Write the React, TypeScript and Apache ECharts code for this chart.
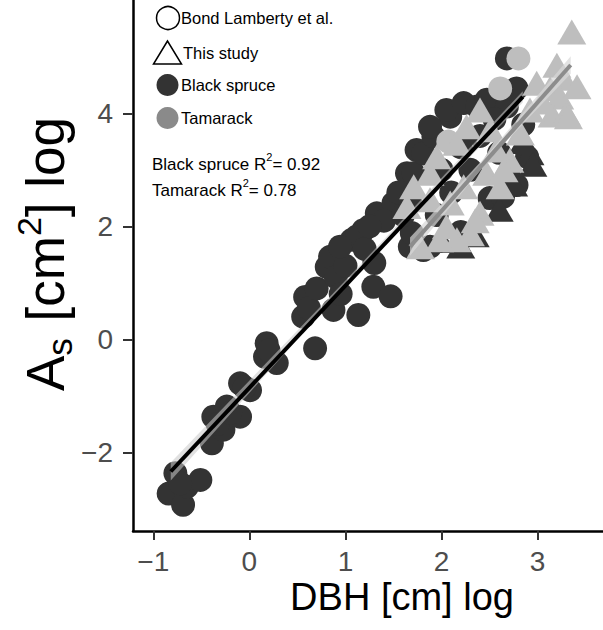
import React, { useEffect, useRef } from "react";
import * as echarts from "echarts";

// Tick values
const xTicks = [-1, 0, 1, 2, 3];
const yTicks = [-2, 0, 2, 4];

// Black spruce, Bond Lamberty et al. (circles)
const spruceBond: number[][] = [
  [-0.84, -2.73], [-0.77, -2.37], [-0.69, -2.93], [-0.65, -2.61], [-0.51, -2.49], [-0.72, -2.55],
  [-0.39, -1.84], [-0.375, -1.37], [-0.27, -1.6], [-0.235, -1.19], [-0.097, -1.37], [-0.33, -1.5], [-0.2, -1.3],
  [-0.097, -0.78], [0.007, -0.9], [-0.05, -0.85],
  [0.18, -0.07], [0.163, -0.31], [0.285, -0.42], [0.2, -0.2],
  [0.58, 0.75], [0.56, 0.4], [0.684, -0.16], [0.62, 0.55], [0.805, 1.28], [0.84, 1.46], [0.875, 0.52],
  [0.7, 0.9], [0.9, 1.1], [0.95, 0.8], [1.066, 1.76], [1.134, 0.43], [1.186, 1.93], [1.326, 2.23],
  [1.29, 0.93], [1.3, 1.35], [1.0, 1.3], [1.118, 1.82], [0.944, 1.64], [1.2, 1.6], [1.47, 0.76],
  [1.5, 2.41], [1.4, 2.1], [1.25, 2.0],
  [1.67, 1.64], [1.69, 1.88], [1.67, 2.46], [1.64, 2.94], [1.707, 2.94], [1.74, 3.35], [1.81, 3.29],
  [1.915, 3.59], [2.09, 3.94], [1.88, 3.76], [2.05, 4.06], [2.23, 4.18], [2.37, 4.12], [2.47, 4.24],
  [2.68, 4.12], [2.78, 4.44], [2.68, 4.97], [1.81, 1.58], [1.88, 1.64], [2.78, 2.73], [2.89, 3.23],
  [2.7, 2.9], [2.0, 3.0], [2.2, 3.4], [2.4, 3.6], [2.55, 3.9], [2.3, 3.0], [2.6, 3.3], [1.95, 2.2],
  [2.1, 2.6], [2.5, 2.5], [2.2, 1.9], [1.6, 2.2], [1.55, 2.6], [2.85, 3.8], [2.64, 2.52],
];

// Black spruce, this study (triangles)
const spruceStudy: number[][] = [
  [2.2, 1.65], [2.35, 1.85], [2.92, 3.3], [2.75, 2.75], [2.0, 1.75], [2.6, 2.3], [2.85, 3.5], [2.95, 3.1],
];

// Tamarack, Bond Lamberty et al. (circles)
const tamarackBond: number[][] = [
  [2.8, 4.97], [2.61, 4.44], [2.07, 3.5],
];

// Tamarack, this study (triangles)
const tamarackStudy: number[][] = [
  [3.355, 5.44], [3.2, 4.85], [3.27, 4.62], [3.13, 4.44], [3.23, 4.29], [3.15, 3.97], [2.99, 4.53],
  [2.92, 4.06], [2.82, 3.65], [2.71, 3.17], [2.61, 2.7], [2.4, 2.23], [2.3, 1.87], [2.16, 1.76],
  [1.98, 1.76], [1.78, 1.64], [1.64, 2.35], [1.71, 2.7], [1.88, 2.94], [1.95, 3.23], [2.16, 3.47],
  [2.26, 3.76], [2.4, 4.06], [2.51, 3.71], [2.57, 3.35], [2.47, 2.94], [2.23, 2.7], [2.09, 2.41],
  [1.88, 2.47], [2.05, 1.99], [2.35, 2.1], [2.65, 3.0], [3.05, 4.2], [3.3, 4.0], [3.41, 4.47], [3.32, 3.94],
];

// Fitted lines
const spruceFit: number[][] = [[-0.818, -2.34], [2.845, 4.29]];
const tamarackFit: number[][] = [[1.672, 1.64], [3.344, 4.855]];

// Confidence bands [x, low, high]
const spruceBand: number[][] = [[-0.818, -2.5, -2.18], [1.0, 0.95, 1.04], [2.845, 4.19, 4.39]];
const tamarackBand: number[][] = [[1.672, 1.48, 1.8], [2.5, 3.19, 3.31], [3.344, 4.7, 5.01]];

const FONT = "'Liberation Sans', Arial, Helvetica, sans-serif";

function bandSeries(band: number[][], color: string) {
  return {
    type: "custom",
    data: [[band[0][0], band[0][1]]],
    silent: true,
    z: 3,
    renderItem: (_params: any, api: any) => {
      const pts: number[][] = [];
      band.forEach((b) => pts.push(api.coord([b[0], b[2]])));
      for (let i = band.length - 1; i >= 0; i--) pts.push(api.coord([band[i][0], band[i][1]]));
      return { type: "polygon", shape: { points: pts }, style: { fill: color } };
    },
  };
}

export default function App() {
  const ref = useRef<HTMLDivElement>(null);
  useEffect(() => {
    if (!ref.current) return;
    const chart = echarts.init(ref.current, undefined, { renderer: "svg" });
    const minus = (v: number) => String(v).replace("-", "\u2212");
    chart.setOption({
      animation: false,
      backgroundColor: "#ffffff",
      grid: { left: 133, right: 0, top: 0, bottom: 99, containLabel: false },
      xAxis: {
        type: "value",
        min: -1.211,
        max: 3.68,
        axisLine: { show: true, onZero: false, lineStyle: { color: "#000", width: 2.5 } },
        axisTick: { show: true, customValues: xTicks, length: 9, lineStyle: { color: "#333", width: 2 } },
        axisLabel: { customValues: xTicks, formatter: minus, color: "#4d4d4d", fontSize: 28, fontFamily: FONT, margin: 16 },
        splitLine: { show: false },
      },
      yAxis: {
        type: "value",
        min: -3.393,
        max: 6.005,
        axisLine: { show: true, onZero: false, lineStyle: { color: "#000", width: 2.5 } },
        axisTick: { show: true, customValues: yTicks, length: 10, lineStyle: { color: "#333", width: 2 } },
        axisLabel: { customValues: yTicks, formatter: minus, color: "#4d4d4d", fontSize: 28, fontFamily: FONT, margin: 20 },
        splitLine: { show: false },
      },
      series: [
        { type: "scatter", data: spruceBond, symbol: "circle", symbolSize: 24, itemStyle: { color: "#333333", opacity: 1 }, z: 2 },
        { type: "scatter", data: spruceStudy, symbol: "triangle", symbolSize: [29, 25], itemStyle: { color: "#333333", opacity: 1 }, z: 2 },
        { type: "scatter", data: tamarackBond, symbol: "circle", symbolSize: 24, itemStyle: { color: "#bebebe", opacity: 1 }, z: 2 },
        { type: "scatter", data: tamarackStudy, symbol: "triangle", symbolSize: [29, 25], itemStyle: { color: "#bebebe", opacity: 1 }, z: 2 },
        bandSeries(spruceBand, "rgba(200,200,200,0.55)"),
        bandSeries(tamarackBand, "rgba(215,215,215,0.7)"),
        { type: "line", data: spruceFit, symbol: "none", lineStyle: { color: "#000", width: 4 }, z: 4 },
        { type: "line", data: tamarackFit, symbol: "none", lineStyle: { color: "#8c8c8c", width: 4 }, z: 4 },
      ],
      graphic: [
        { type: "circle", shape: { cx: 168, cy: 18, r: 11.5 }, style: { fill: "#fff", stroke: "#000", lineWidth: 1.5 } },
        { type: "text", x: 181, y: 18, style: { text: "Bond Lamberty et al.", font: `16.5px ${FONT}`, fill: "#000", verticalAlign: "middle" } },
        { type: "polygon", shape: { points: [[167.5, 41], [153.5, 64], [181.5, 64]] }, style: { fill: "#fff", stroke: "#000", lineWidth: 1.5 } },
        { type: "text", x: 183, y: 53, style: { text: "This study", font: `16.5px ${FONT}`, fill: "#000", verticalAlign: "middle" } },
        { type: "circle", shape: { cx: 167.5, cy: 85, r: 11 }, style: { fill: "#333333" } },
        { type: "text", x: 181, y: 85, style: { text: "Black spruce", font: `16.5px ${FONT}`, fill: "#000", verticalAlign: "middle" } },
        { type: "circle", shape: { cx: 167.5, cy: 118, r: 11 }, style: { fill: "#8a8a8a" } },
        { type: "text", x: 181, y: 118, style: { text: "Tamarack", font: `16.5px ${FONT}`, fill: "#000", verticalAlign: "middle" } },
        {
          type: "text", x: 152, y: 162,
          style: {
            text: "{a|Black spruce R}{s|2}{a|= 0.92}", verticalAlign: "middle", fill: "#000",
            rich: { a: { font: `17px ${FONT}`, fill: "#000", lineHeight: 22, verticalAlign: "bottom" }, s: { font: `11px ${FONT}`, fill: "#000", lineHeight: 22, verticalAlign: "top" } },
          },
        },
        {
          type: "text", x: 152, y: 188,
          style: {
            text: "{a|Tamarack R}{s|2}{a|= 0.78}", verticalAlign: "middle", fill: "#000",
            rich: { a: { font: `17px ${FONT}`, fill: "#000", lineHeight: 22, verticalAlign: "bottom" }, s: { font: `11px ${FONT}`, fill: "#000", lineHeight: 22, verticalAlign: "top" } },
          },
        },
        { type: "text", x: 402, y: 597, style: { text: "DBH [cm] log", font: `38px ${FONT}`, fill: "#000", align: "center", verticalAlign: "middle" } },
        {
          type: "text", x: 42, y: 254, rotation: Math.PI / 2,
          style: {
            text: "{a|A}{b|s}{a| [cm}{c|2}{a|] log}", align: "center", verticalAlign: "middle",
            rich: {
              a: { font: `53px ${FONT}`, fill: "#000", lineHeight: 60, verticalAlign: "bottom" },
              b: { font: `35px ${FONT}`, fill: "#000", lineHeight: 60, verticalAlign: "bottom", padding: [0, 2, -5, 0] },
              c: { font: `34px ${FONT}`, fill: "#000", lineHeight: 60, verticalAlign: "top" },
            },
          },
        },
      ],
    });
    return () => chart.dispose();
  }, []);
  return <div ref={ref} style={{ position: "absolute", left: 0, top: 0, width: 603, height: 630 }} />;
}
